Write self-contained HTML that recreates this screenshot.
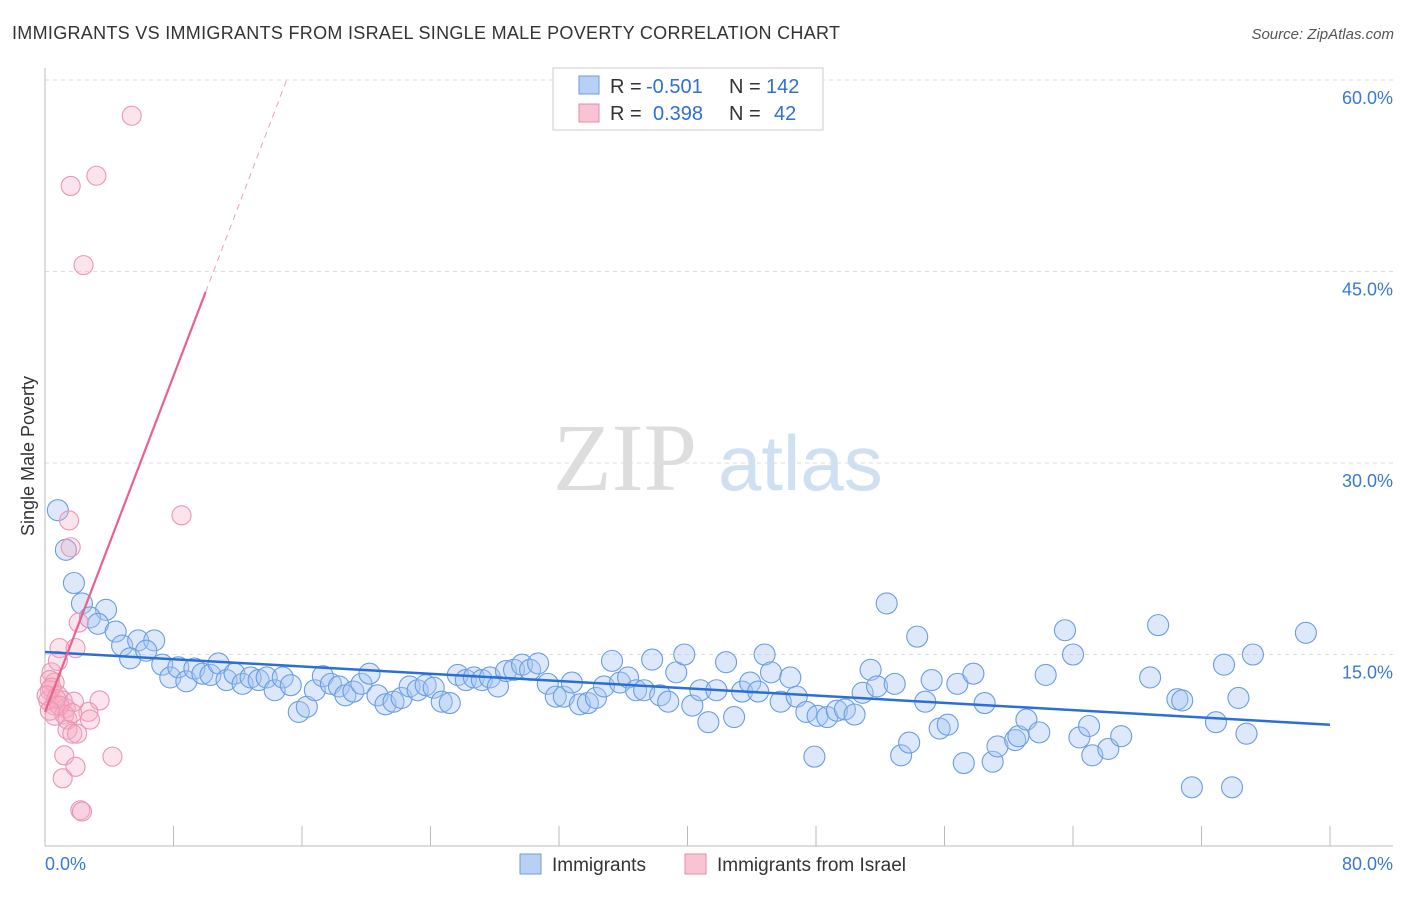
<!DOCTYPE html>
<html><head><meta charset="utf-8"><style>
body{margin:0;background:#fff;font-family:"Liberation Sans",sans-serif}
svg text{font-family:"Liberation Sans",sans-serif}
</style></head><body>
<svg id="chart" width="1406" height="892" xmlns="http://www.w3.org/2000/svg">
<text x="12" y="39" font-size="18" fill="#333" textLength="828" lengthAdjust="spacing">IMMIGRANTS VS IMMIGRANTS FROM ISRAEL SINGLE MALE POVERTY CORRELATION CHART</text>
<text x="1394" y="39" font-size="15" fill="#555" font-style="italic" text-anchor="end">Source: ZipAtlas.com</text>
<g><text x="553" y="490" font-size="96" fill="#ddd" style="font-family:'Liberation Serif',serif">ZIP</text><text x="718" y="490" font-size="78" fill="#cfe0f3">atlas</text></g>
<g id="grid"></g><g id="axes"></g><g id="trends"></g><g id="pts"></g>
<text transform="translate(34,456) rotate(-90)" font-size="18" fill="#333" text-anchor="middle">Single Male Poverty</text>
<g>
<rect x="553" y="68" width="270" height="62" fill="#fff" stroke="#ccc"/>
<rect x="579" y="76" width="20" height="18" fill="#b7d0f3" stroke="#6a9de0"/>
<text x="610" y="93" font-size="20" fill="#333">R =</text>
<text x="646" y="93" font-size="20" fill="#2f6fd6">-0.501</text>
<text x="729" y="93" font-size="20" fill="#333">N =</text>
<text x="766" y="93" font-size="20" fill="#2f6fd6">142</text>
<rect x="579" y="104" width="20" height="18" fill="#f8c3d2" stroke="#e88aa6"/>
<text x="610" y="120" font-size="20" fill="#333">R =</text>
<text x="653" y="120" font-size="20" fill="#2f6fd6">0.398</text>
<text x="729" y="120" font-size="20" fill="#333">N =</text>
<text x="774" y="120" font-size="20" fill="#2f6fd6">42</text>
</g>
<g>
<rect x="520" y="854" width="21" height="20" fill="#b7d0f3" stroke="#6a9de0"/>
<text x="552" y="871" font-size="19" fill="#333">Immigrants</text>
<rect x="685" y="854" width="21" height="20" fill="#f8c3d2" stroke="#e88aa6"/>
<text x="717" y="871" font-size="19" fill="#333">Immigrants from Israel</text>
</g>
</svg>
<script>
const blueX=[0.8,1.3,1.8,2.3,3.8,2.8,3.3,4.4,4.8,5.8,6.8,5.3,6.3,7.3,7.8,8.3,8.8,9.3,9.8,10.3,10.8,11.3,11.8,12.3,12.8,13.3,13.8,14.3,14.8,15.3,15.8,16.3,16.8,17.3,17.8,18.3,18.7,19.2,19.7,20.2,20.7,21.2,21.7,22.2,22.7,23.2,23.7,24.2,24.7,25.2,25.7,26.2,26.7,27.2,27.7,28.2,28.7,29.2,29.7,30.2,30.7,31.3,31.8,32.3,32.8,33.3,33.8,34.3,34.8,35.3,35.8,36.3,36.8,37.3,37.8,38.3,38.8,39.3,39.8,40.3,40.8,41.3,41.8,42.4,42.9,43.4,43.9,44.4,44.8,45.2,45.8,46.4,46.8,47.4,47.9,48.1,48.7,49.3,49.8,50.4,50.9,51.4,51.8,52.4,52.9,53.3,53.8,54.3,54.8,55.2,55.7,56.2,56.8,57.2,57.8,58.5,59.0,59.3,60.4,60.6,61.1,61.9,62.3,63.5,64.0,64.4,65.0,65.2,66.2,67.0,68.8,69.3,70.5,70.8,71.4,72.9,73.4,73.9,74.3,74.8,75.2,78.5];
const blueY=[26.3,23.2,20.6,19.0,18.5,17.9,17.4,16.8,15.7,16.1,16.1,14.7,15.3,14.2,13.2,14.0,12.9,13.9,13.5,13.4,14.3,13.0,13.5,12.7,13.2,13.0,13.2,12.2,13.2,12.6,10.5,10.9,12.2,13.3,12.7,12.5,11.8,12.1,12.7,13.5,11.8,11.1,11.3,11.6,12.5,12.2,12.6,12.4,11.3,11.2,13.4,13.0,13.2,13.0,13.2,12.5,13.7,13.8,14.2,13.8,14.3,12.7,11.7,11.7,12.8,11.1,11.2,11.6,12.5,14.5,12.8,13.2,12.2,12.2,14.6,11.8,11.3,13.6,15.0,11.0,12.2,9.7,12.2,14.4,10.1,12.1,12.8,12.1,15.0,13.6,11.3,13.2,11.7,10.5,7.0,10.2,10.1,10.6,10.7,10.3,12.0,13.8,12.5,19.0,12.7,7.1,8.1,16.4,11.3,13.0,9.2,9.5,12.7,6.5,13.5,11.2,6.6,7.8,8.3,8.6,9.9,8.9,13.4,16.9,15.0,8.5,9.4,7.1,7.6,8.6,13.2,17.3,11.5,11.4,4.6,9.7,14.2,4.6,11.6,8.8,15.0,16.7];
const pinkX=[5.4,3.2,1.6,2.4,8.5,1.5,1.6,2.1,0.9,1.9,0.4,0.6,0.3,0.8,0.2,1.1,1.3,0.6,1.8,3.4,0.6,1.2,1.4,2.7,2.8,1.4,1.7,2.0,1.2,4.2,1.9,1.1,2.2,2.3,0.3,0.4,0.1,0.7,0.9,0.3,1.7,0.8];
const pinkY=[57.2,52.5,51.7,45.5,25.9,25.5,23.4,17.5,15.5,15.5,13.6,12.8,12.2,11.8,11.4,11.4,10.8,11.0,11.3,11.4,10.2,10.3,9.9,10.5,9.9,9.1,8.8,8.8,7.1,7.0,6.2,5.3,2.8,2.7,13.0,12.4,11.8,11.5,11.0,10.6,10.4,14.5];
const blueTrend=[15.2,9.5];       // y at x=0 and x=80
const pinkTrend=[10.5,3.29];      // intercept, slope
const yTicks=[15,30,45,60];
const xTickLabels=["0.0%","80.0%"];
const NS="http://www.w3.org/2000/svg";
const X0=45,X1=1330,Y0=846,YTOP=80;
const sx=v=>X0+(v/80)*(X1-X0);
const sy=v=>Y0-(v/60)*(Y0-YTOP);
function mk(tag,attrs,parent){const e=document.createElementNS(NS,tag);for(const k in attrs)e.setAttribute(k,attrs[k]);parent.appendChild(e);return e;}
const grid=document.getElementById('grid'),axes=document.getElementById('axes'),pts=document.getElementById('pts');
yTicks.forEach(t=>{
 const l=mk('line',{x1:X0,x2:1393,y1:sy(t),y2:sy(t),stroke:'#ddd','stroke-dasharray':'4,4'},grid);
 
 
 const tx=mk('text',{x:1393,y:sy(t)+24,'font-size':18,fill:'#3a78d4','text-anchor':'end'},grid);
 tx.textContent=t.toFixed(1)+'%';
 
 
});
const ya=mk('line',{x1:X0,x2:X0,y1:68,y2:Y0,stroke:'#bbb'},axes);


const xa=mk('line',{x1:X0,x2:1393,y1:Y0,y2:Y0,stroke:'#bbb'},axes);


for(let i=1;i<=10;i++){
 const tk=mk('line',{x1:sx(i*8),x2:sx(i*8),y1:826,y2:Y0,stroke:'#bbb'},axes);
 
 
}
const xl0=mk('text',{x:45,y:870,'font-size':18,fill:'#3a78d4'},axes);xl0.textContent=xTickLabels[0];


const xl1=mk('text',{x:1393,y:870,'font-size':18,fill:'#3a78d4','text-anchor':'end'},axes);xl1.textContent=xTickLabels[1];


blueX.forEach((x,i)=>{
 const c=mk('circle',{cx:sx(x),cy:sy(blueY[i]),r:10.5,fill:'rgba(165,198,242,0.38)',stroke:'#6a9de2','stroke-width':1.1},pts);
 
 
});
pinkX.forEach((x,i)=>{
 const c=mk('circle',{cx:sx(x),cy:sy(pinkY[i]),r:9.5,fill:'rgba(245,170,195,0.32)',stroke:'#ec95b0','stroke-width':1.1},pts);
 
 
});
const bl=mk('line',{x1:sx(0),y1:sy(blueTrend[0]),x2:sx(80),y2:sy(blueTrend[1]),stroke:'#2a6fd8','stroke-width':2.5},pts);


const pe=(60-pinkTrend[0])/pinkTrend[1];
const pl=mk('line',{x1:sx(0),y1:sy(pinkTrend[0]),x2:sx(10),y2:sy(pinkTrend[0]+10*pinkTrend[1]),stroke:'#e8628e','stroke-width':2.2},pts);


const pd=mk('line',{x1:sx(10),y1:sy(pinkTrend[0]+10*pinkTrend[1]),x2:sx(pe),y2:sy(60),stroke:'#eaa0b8','stroke-width':1,'stroke-dasharray':'6,5'},pts);


</script>
</body></html>
